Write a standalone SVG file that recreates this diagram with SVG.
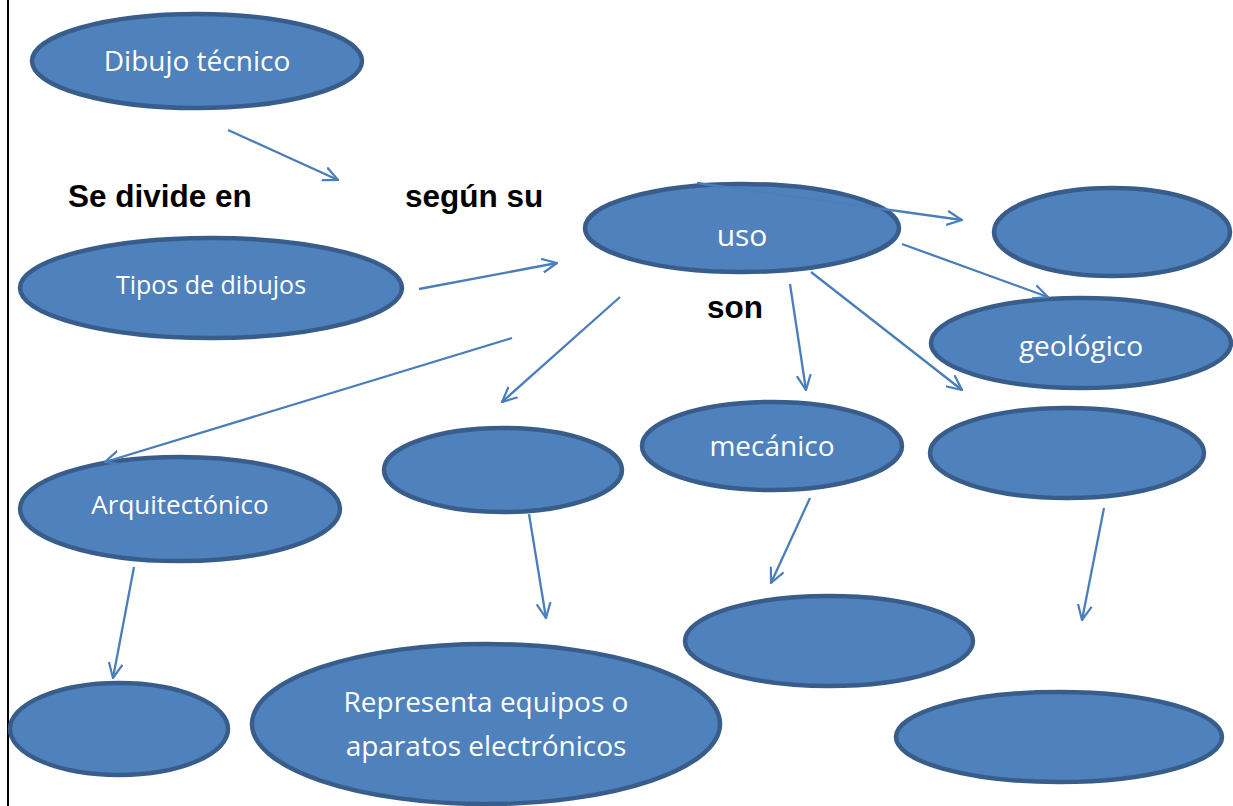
<svg xmlns="http://www.w3.org/2000/svg" width="1233" height="806" viewBox="0 0 1233 806">
<defs>
<style>
.n{fill:#4F81BD;stroke:#385D8A;stroke-width:4.5}
.t{fill:#FFFFFF;font-family:"Open Sans","Liberation Sans",sans-serif;font-size:28px;text-anchor:middle}
.l{fill:#000000;font-family:"Liberation Sans",Arial,sans-serif;font-size:31.5px;font-weight:bold}
.c{stroke:#4A7EBB;stroke-width:2.3;fill:none}
</style>
<marker id="ah" viewBox="0 0 16 16" refX="15" refY="8" markerWidth="16" markerHeight="16" markerUnits="userSpaceOnUse" orient="auto">
<path d="M0,1 L15,8 L0,15" fill="none" stroke="#4A7EBB" stroke-width="2.2"/>
</marker>
</defs>
<rect width="1233" height="806" fill="#FFFFFF"/>
<line x1="8" y1="0" x2="8" y2="806" stroke="#000000" stroke-width="2"/>
<g id="n-dibujo"><ellipse class="n" cx="197" cy="61" rx="165" ry="47"/><text class="t" x="197" y="71">Dibujo técnico</text></g>
<g id="n-tipos"><ellipse class="n" cx="211" cy="288" rx="191" ry="50"/><text class="t" x="211" y="294" style="font-size:25px">Tipos de dibujos</text></g>
<g id="n-uso"><ellipse class="n" cx="742" cy="228" rx="157" ry="44"/><text class="t" x="742" y="246" style="font-size:30px">uso</text></g>
<g id="n-tr"><ellipse class="n" cx="1112" cy="232" rx="118" ry="44"/></g>
<g id="n-geologico"><ellipse class="n" cx="1081" cy="343" rx="150" ry="45"/><text class="t" x="1081" y="356">geológico</text></g>
<g id="n-mecanico"><ellipse class="n" cx="772" cy="446" rx="130" ry="44"/><text class="t" x="772" y="456">mecánico</text></g>
<g id="n-r2"><ellipse class="n" cx="1067" cy="453" rx="137" ry="45"/></g>
<g id="n-m2"><ellipse class="n" cx="503" cy="470" rx="119" ry="42"/></g>
<g id="n-arq"><ellipse class="n" cx="180" cy="509" rx="160" ry="52"/><text class="t" x="180" y="514" style="font-size:26px">Arquitectónico</text></g>
<g id="n-bl"><ellipse class="n" cx="119" cy="729" rx="109" ry="46"/></g>
<g id="n-repr"><ellipse class="n" cx="486" cy="724" rx="234" ry="80"/><text class="t" x="486" y="712">Representa equipos o</text><text class="t" x="486" y="756">aparatos electrónicos</text></g>
<g id="n-bm"><ellipse class="n" cx="829" cy="641" rx="144" ry="45"/></g>
<g id="n-br"><ellipse class="n" cx="1059" cy="737" rx="163" ry="45"/></g>
<g id="labels">
<text class="l" x="68" y="207">Se divide en</text>
<text class="l" x="405" y="207">según su</text>
<text class="l" x="707" y="318">son</text>
</g>
<g id="connectors">
<line class="c" x1="228" y1="130" x2="338" y2="180" marker-end="url(#ah)"/>
<line class="c" x1="419" y1="289" x2="557" y2="263" marker-end="url(#ah)"/>
<line class="c" x1="697" y1="183" x2="962" y2="220" marker-end="url(#ah)"/>
<line class="c" x1="902" y1="244" x2="1048" y2="297" marker-end="url(#ah)"/>
<line class="c" x1="811" y1="272" x2="962" y2="390" marker-end="url(#ah)"/>
<line class="c" x1="790" y1="284" x2="806" y2="390" marker-end="url(#ah)"/>
<line class="c" x1="620" y1="297" x2="502" y2="402" marker-end="url(#ah)"/>
<line class="c" x1="512" y1="338" x2="105" y2="462" marker-end="url(#ah)"/>
<line class="c" x1="134" y1="567" x2="113" y2="678" marker-end="url(#ah)"/>
<line class="c" x1="529" y1="514" x2="546" y2="618" marker-end="url(#ah)"/>
<line class="c" x1="810" y1="498" x2="771" y2="583" marker-end="url(#ah)"/>
<line class="c" x1="1104" y1="508" x2="1082" y2="620" marker-end="url(#ah)"/>
</g>
</svg>
